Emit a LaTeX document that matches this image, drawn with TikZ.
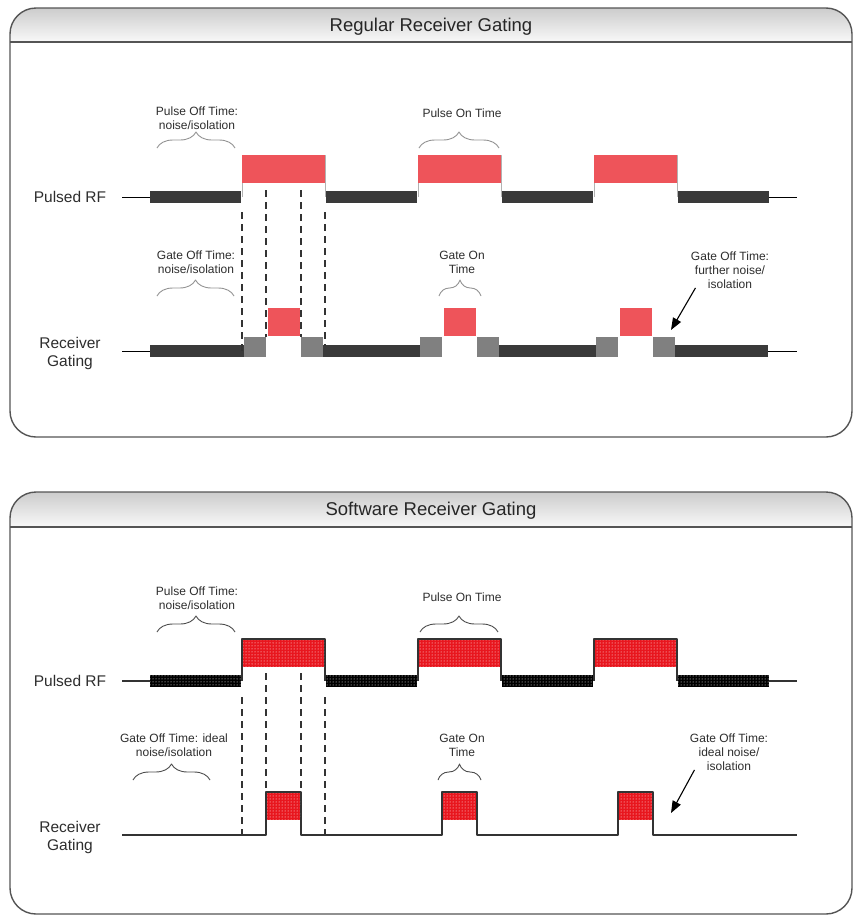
\documentclass[tikz,border=0pt]{standalone}
\usepackage{fontspec}
\setmainfont{Liberation Sans}
\usetikzlibrary{arrows.meta,decorations.pathreplacing,patterns}
\definecolor{rfred}{RGB}{238,84,90}
\definecolor{dotred}{RGB}{232,22,30}
\definecolor{offbar}{RGB}{58,58,58}
\definecolor{gatebox}{RGB}{128,128,128}
\definecolor{framegray}{RGB}{85,85,85}
\definecolor{txtgray}{RGB}{45,45,45}
\tikzset{
	frame/.style={draw=framegray,line width=1.4pt},
	title/.style={font=\fontsize{18.5}{22}\selectfont,text=black!85},
	rowlbl/.style={font=\fontsize{15.5}{18}\selectfont,text=txtgray,align=center},
	note/.style={font=\fontsize{12}{14}\selectfont,text=txtgray,align=center},
	bracket/.style={draw=gray!85,line width=0.9pt,decorate,decoration={brace,amplitude=16pt}},
	cut/.style={draw=black!80,line width=1.2pt,dash pattern=on 7pt off 5pt},
	sig/.style={draw=gray!60,line width=1pt},
	wave/.style={draw=gray!40!black,line width=1.2pt},
	pointer/.style={-{Triangle[length=12pt,width=9pt]},line width=1.1pt},
	dotfill/.style={fill=#1,postaction={pattern=dots,pattern color=white}},
}
\begin{document}
\begin{tikzpicture}[x=1pt,y=-1pt,line join=round]
	\useasboundingbox (0,0) rectangle (854,916);
	% Regular receiver gating
	\shade[top color=gray!40,bottom color=gray!5,rounded corners=26pt] (10,42) -- (10,8) -- (852,8) -- (852,42);
	\draw[frame,rounded corners=26pt] (10,8) rectangle (852,437);
	\draw[frame] (10,42) -- (852,42);
	\node[title] (titleA) at (431,26.5) {Regular Receiver Gating};
	\node[rowlbl] (rfA) at (70,197) {Pulsed RF};
	\node[rowlbl] (rxA) at (70,353) {Receiver\\Gating};
	\draw[line width=1pt] (122,197) -- (150,197) (768,197) -- (797,197);
	\draw[line width=1pt] (122,351) -- (150,351) (768,351) -- (797,351);
	\foreach \k in {0,1,2}{
		\draw[sig] (242+176*\k,197) |- (325+176*\k,155) -- (325+176*\k,197);
		\fill[rfred] (242+176*\k,155) rectangle (325+176*\k,183);
		\fill[gatebox] (244+176*\k,337) rectangle (266+176*\k,357);
		\fill[rfred] (268+176*\k,308) rectangle (300+176*\k,336);
		\fill[gatebox] (301+176*\k,337) rectangle (323+176*\k,357);
	}
	\foreach \k in {0,...,3}
	\fill[offbar] (150+176*\k,191) rectangle (241+176*\k,203);
	\fill[offbar] (150,345) rectangle (244,357);
	\foreach \k in {0,1}
	\fill[offbar] (323+176*\k,345) rectangle (420+176*\k,357);
	\fill[offbar] (675,345) rectangle (768,357);
	\foreach \x/\a/\b in {242/212/352,266/190/337,301/190/337,325/212/346}
	\draw[cut] (\x,\a) -- (\x,\b);
	\node[note] (offA) at (197,118) {Pulse Off Time:\\noise/isolation};
	\draw[bracket] (157,148) -- (235,148);
	\node[note] (onA) at (462,113) {Pulse On Time};
	\draw[bracket] (419,148) -- (499,148);
	\node[note] (goffA) at (196,262) {Gate Off Time:\\noise/isolation};
	\draw[bracket] (157,296) -- (234,296);
	\node[note] (gonA) at (462,262) {Gate On\\Time};
	\draw[bracket] (439,296) -- (481,296);
	\node[note] (furtherA) at (730,270) {Gate Off Time:\\further noise/\\isolation};
	\coordinate (tipA) at (671,330);
	\draw[pointer] ([shift={(8pt,4pt)}]furtherA.south west) -- (tipA);
	% Software receiver gating
	\begin{scope}[shift={(0,484)}]
		\shade[top color=gray!40,bottom color=gray!5,rounded corners=26pt] (10,43) -- (10,8) -- (852,8) -- (852,43);
		\draw[frame,rounded corners=26pt] (10,8) rectangle (852,430);
		\draw[frame] (10,43) -- (852,43);
		\node[title] (titleB) at (431,26.5) {Software Receiver Gating};
		\node[rowlbl] (rfB) at (70,197) {Pulsed RF};
		\node[rowlbl] (rxB) at (70,353) {Receiver\\Gating};
		\draw[wave] (122,197) -- (150,197) (768,197) -- (797,197);
		\foreach \k in {0,1,2}{
			\draw[wave] (242+176*\k,197) |- (325+176*\k,155) -- (325+176*\k,197);
			\path[dotfill=dotred] (243+176*\k,156) rectangle (324+176*\k,183);
		}
		\foreach \k in {0,...,3}
		\path[dotfill=black] (150+176*\k,191) rectangle (241+176*\k,203);
		\draw[wave] (122,351) -| (266,308) -| (301,351) -| (442,308) -| (477,351) -| (618,308) -| (653,351) -- (797,351);
		\foreach \k in {0,1,2}
		\path[dotfill=dotred] (267+176*\k,309) rectangle (300+176*\k,336);
		\foreach \x/\a/\b in {242/213/351,266/189/349,301/189/349,325/213/351}
		\draw[cut,draw=gray!40!black] (\x,\a) -- (\x,\b);
		\node[note] (offB) at (197,114) {Pulse Off Time:\\noise/isolation};
		\draw[bracket,draw=black!70] (157,148) -- (235,148);
		\node[note] (onB) at (462,113) {Pulse On Time};
		\draw[bracket,draw=black!70] (420,148) -- (498,148);
		\node[note] (goffB) at (174,261) {Gate Off Time: ideal\\noise/isolation};
		\draw[bracket,draw=black!70] (133,296) -- (210,296);
		\node[note] (gonB) at (462,261) {Gate On\\Time};
		\draw[bracket,draw=black!70] (438,296) -- (481,296);
		\node[note] (idealB) at (729,268) {Gate Off Time:\\ideal noise/\\isolation};
		\coordinate (tipB) at (671,329);
		\draw[pointer] ([shift={(8pt,4pt)}]idealB.south west) -- (tipB);
	\end{scope}
\end{tikzpicture}
\end{document}
